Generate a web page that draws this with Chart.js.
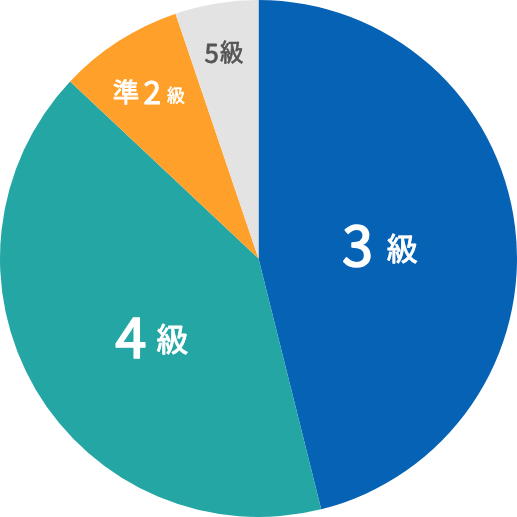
<!DOCTYPE html>
<html>
<head>
<meta charset="utf-8">
<script src="https://cdn.jsdelivr.net/npm/chart.js@4"></script>
<style>
html,body{margin:0;padding:0;background:#fff;}
#wrap{width:517px;height:517px;position:relative;}
</style>
</head>
<body>
<div id="wrap"><canvas id="c"></canvas></div>
<script>
// ---- data ----
const categories = ['3級', '4級', '準2級', '5級'];
const values = [46.1, 40.9, 7.8, 5.2];
const labelPrefix = ['', '', '準', ''];
const labelNumber = ['3', '4', '2', '5'];
const labelSuffix = ['級', '級', '級', '級'];

// ---- styles ----
const sliceColors = ['#0562B4', '#24A6A4', '#FFA02A', '#E3E3E3'];
const textColors = ['#ffffff', '#ffffff', '#ffffff', '#555555'];
// per-label placement: radius fraction, angle offset (deg)
const labelRadius = [0.4735, 0.514, 0.770, 0.8036];
const labelAngleOff = [1.35, -6.1, -0.5, -0.26];
// target ink heights of parts: [prefix, number, suffix]
const partHeights = [[0, 42.7, 30], [0, 41.6, 30.7], [25.7, 24, 17.3], [0, 19.3, 22.6]];
// bottom offsets of each part relative to the anchor (number ink centre)
const partBottoms = [[0, 21.3, 17.6], [0, 20.8, 18.2], [13, 12, 12], [0, 9.6, 10.6]];
const partGaps = [[0, 15], [0, 10], [5, 6.7], [0, 1.7]];
const FONT = '"Noto Sans CJK JP", "Noto Sans", sans-serif';
const WEIGHT = 'normal';
const EMBOLDEN = 0.03; // extra stroke, as fraction of font size

const labelPlugin = {
  id: 'sliceLabels',
  afterDatasetsDraw(chart) {
    const ctx = chart.ctx;
    const meta = chart.getDatasetMeta(0);
    meta.data.forEach((arc, i) => {
      const p = arc.getProps(['x', 'y', 'startAngle', 'endAngle', 'outerRadius'], true);
      const mid = (p.startAngle + p.endAngle) / 2 + labelAngleOff[i] * Math.PI / 180;
      const r = p.outerRadius * labelRadius[i];
      const ax = p.x + Math.cos(mid) * r;
      const ay = p.y + Math.sin(mid) * r;
      const texts = [labelPrefix[i], labelNumber[i], labelSuffix[i]];
      const parts = [];
      texts.forEach((t, k) => {
        if (!t) return;
        ctx.font = WEIGHT + ' 100px ' + FONT;
        const m0 = ctx.measureText(t);
        const h0 = m0.actualBoundingBoxAscent + m0.actualBoundingBoxDescent;
        // account for the emboldening stroke adding lw to the ink height
        const size = partHeights[i][k] / (h0 / 100 + EMBOLDEN);
        const lw = size * EMBOLDEN;
        ctx.font = WEIGHT + ' ' + size.toFixed(2) + 'px ' + FONT;
        const m = ctx.measureText(t);
        parts.push({ t, k, lw, font: ctx.font,
          left: m.actualBoundingBoxLeft + lw / 2,
          w: m.actualBoundingBoxLeft + m.actualBoundingBoxRight + lw,
          desc: m.actualBoundingBoxDescent + lw / 2 });
      });
      let total = 0;
      parts.forEach((pt, j) => {
        total += pt.w;
        if (j < parts.length - 1) total += partGaps[i][pt.k === 0 ? 0 : 1];
      });
      let cursor = ax - total / 2;
      ctx.save();
      ctx.fillStyle = textColors[i];
      ctx.strokeStyle = textColors[i];
      ctx.lineJoin = 'round';
      ctx.textAlign = 'left';
      ctx.textBaseline = 'alphabetic';
      parts.forEach((pt, j) => {
        ctx.font = pt.font;
        ctx.lineWidth = pt.lw;
        const tx = cursor + pt.left;
        const ty = ay + partBottoms[i][pt.k] - pt.desc;
        ctx.fillText(pt.t, tx, ty);
        ctx.strokeText(pt.t, tx, ty);
        cursor += pt.w;
        if (j < parts.length - 1) cursor += partGaps[i][pt.k === 0 ? 0 : 1];
      });
      ctx.restore();
    });
  }
};

new Chart(document.getElementById('c'), {
  type: 'pie',
  data: {
    labels: categories,
    datasets: [{
      data: values,
      backgroundColor: sliceColors,
      borderWidth: 0,
      hoverOffset: 0
    }]
  },
  options: {
    responsive: true,
    maintainAspectRatio: false,
    animation: false,
    layout: { padding: 0 },
    plugins: {
      legend: { display: false },
      tooltip: { enabled: false }
    }
  },
  plugins: [labelPlugin]
});
</script>
</body>
</html>
